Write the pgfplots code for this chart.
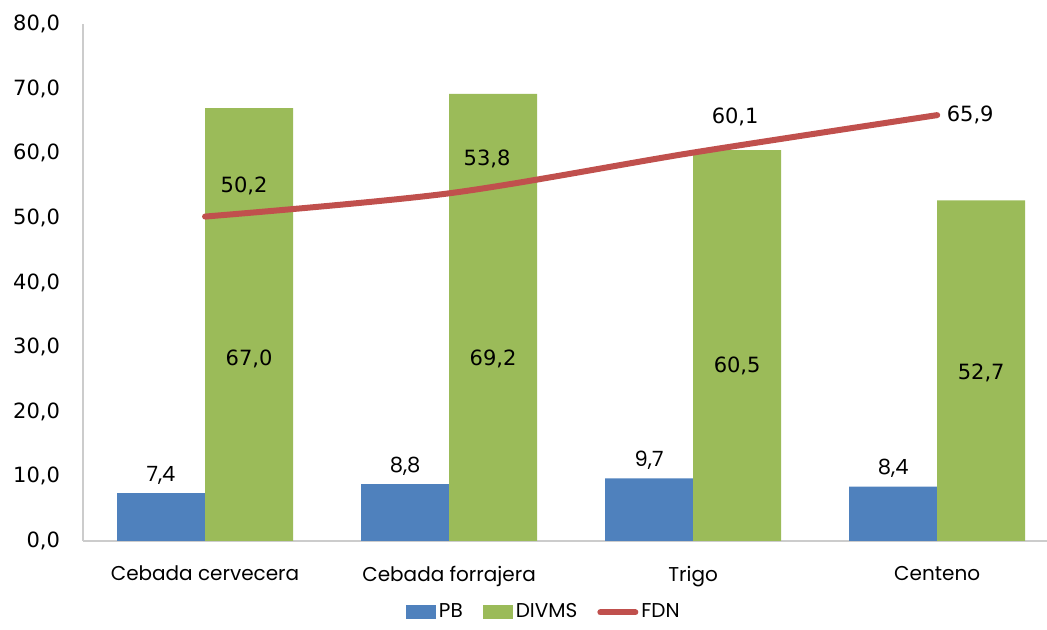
\documentclass[border=0pt]{standalone}
\usepackage{fontspec}
\setmainfont{DejaVu Sans}
\newfontfamily\comic{Poppins}
\usepackage{pgfplots}
\pgfplotsset{compat=1.18}
\usepackage{pgfplotstable}
\definecolor{cPB}{HTML}{4F81BD}
\definecolor{cDI}{HTML}{9BBB59}
\definecolor{cFD}{HTML}{C0504D}
\pgfplotstableread{
x y
0 7.4
1 8.8
2 9.7
3 8.4
}\pbdata
\pgfplotstableread{
x y ly
0 67.0 28.2
1 69.2 28.2
2 60.5 27.1
3 52.7 26.0
}\didata
\pgfplotstableread{
x y dx dy
0 50.2 19.5 15.5
1 53.8 19 17
2 60.1 21 18
3 65.9 16.5 0
}\fddata
\begin{document}
\begin{tikzpicture}
\path[use as bounding box] (-41.5pt,-44.5pt) rectangle (482pt,270.5pt);
\begin{axis}[
  at={(0pt,0pt)}, anchor=south west,
  scale only axis, width=482pt, height=258.5pt,
  xmin=-0.5, xmax=3.45, ymin=0, ymax=80,
  axis x line=bottom, axis y line=left,
  axis line style={draw=black!20, line width=1pt, -},
  xtick={0,1,2,3},
  xticklabels={Cebada cervecera, Cebada forrajera, Trigo, Centeno},
  ytick={0,10,...,80},
  major tick length=0pt,
  /pgf/number format/fixed, /pgf/number format/fixed zerofill,
  /pgf/number format/precision=1, /pgf/number format/use comma,
  /pgf/number format/assume math mode=true,
  yticklabel style={font=\fontsize{10.5}{12}\selectfont, xshift=-8pt},
  xticklabel style={font=\comic\fontsize{10}{12}\selectfont, yshift=-9pt},
  clip=false,
  legend columns=3,
  legend style={at={(0.478,-0.138)}, anchor=center, draw=none, fill=none,
    font=\comic\fontsize{10}{12}\selectfont, inner sep=0pt,
    nodes={inner sep=1pt},
    /tikz/every odd column/.append style={column sep=0.5pt},
    /tikz/every even column/.append style={column sep=9pt}},
]
\addplot[ybar, bar width=44pt, bar shift=-22pt, fill=cPB, draw=none,
  legend image code/.code={\fill[cPB] (0pt,-3.5pt) rectangle (15pt,3.5pt);},
  nodes near coords,
  every node near coord/.append style={font=\comic\fontsize{10.5}{12}\selectfont, text=black, xshift=-22pt, yshift=1pt}]
  table[x=x,y=y]{\pbdata};
\addlegendentry{PB}
\addplot[ybar, bar width=44pt, bar shift=22pt, fill=cDI, draw=none,
  legend image code/.code={\fill[cDI] (0pt,-3.5pt) rectangle (15pt,3.5pt);},
  visualization depends on={\thisrow{ly} \as \ly},
  visualization depends on={rawy \as \ry},
  nodes near coords,
  every node near coord/.append style={font=\fontsize{10.5}{12}\selectfont, text=black, anchor=center, xshift=22pt, yshift={(\ly-\ry)*3.23125pt}}]
  table[x=x,y=y]{\didata};
\addlegendentry{DIVMS}
\addplot[smooth, color=cFD, line width=3pt, line cap=round, mark=none,
  legend image code/.code={\draw[cFD, line width=3pt, line cap=round] (0pt,0pt) -- (17.5pt,0pt);},
  visualization depends on={\thisrow{dx} \as \dx},
  visualization depends on={\thisrow{dy} \as \dy},
  nodes near coords,
  every node near coord/.append style={font=\fontsize{10.5}{12}\selectfont, text=black, anchor=center, xshift=\dx pt, yshift=\dy pt}]
  table[x=x,y=y]{\fddata};
\addlegendentry{FDN}
\end{axis}
\end{tikzpicture}
\end{document}
